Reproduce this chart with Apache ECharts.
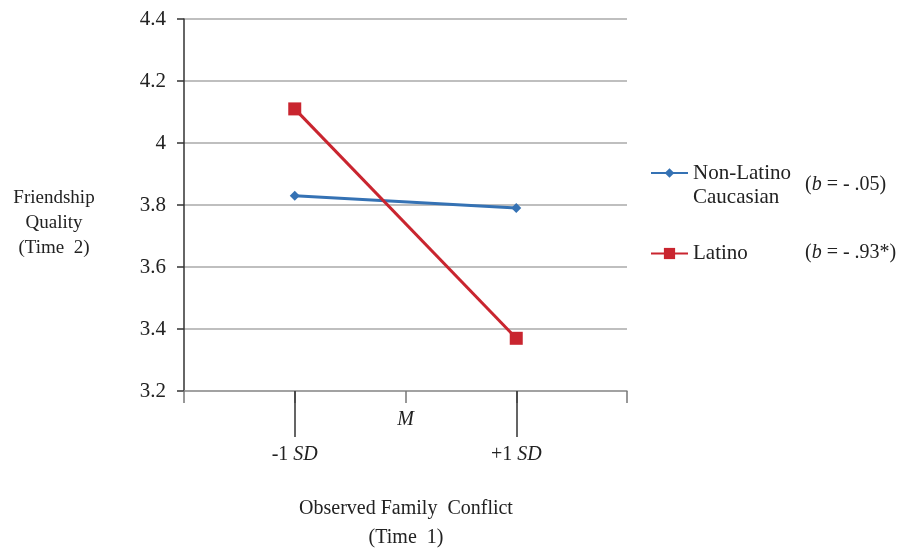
<!DOCTYPE html>
<html>
<head>
<meta charset="utf-8">
<script src="https://cdn.jsdelivr.net/npm/echarts@6/dist/echarts.min.js"></script>
<style>
  html, body { margin: 0; padding: 0; background: #fff; }
  #chart { width: 904px; height: 549px; }
</style>
</head>
<body>
<div id="chart"></div>
<script>
// x positions: -1 SD, M, +1 SD (value axis -2..2)
const xPoints = [-1, 1];
const xTickLabels = { '-1': '-1 ', '0': 'M', '1': '+1 ' };
const yTicks = [3.2, 3.4, 3.6, 3.8, 4.0, 4.2, 4.4];
const seriesNames = ['Non-Latino\nCaucasian', 'Latino'];
const nonLatinoValues = [3.83, 3.79];
const latinoValues = [4.11, 3.37];
const slopeLabels = ['- .05)', '- .93*)'];

const serif = '"Liberation Serif", "Times New Roman", serif';
const blue = '#3572b4';
const red = '#c9252f';

const chart = echarts.init(document.getElementById('chart'));

const pair = (xs, ys) => xs.map((x, i) => [x, ys[i]]);

const option = {
  animation: false,
  textStyle: { fontFamily: serif },
  grid: { left: 184, right: 277, top: 19, bottom: 158 },
  xAxis: [
    {
      type: 'value', min: -2, max: 2, interval: 1,
      axisLine: { show: true, onZero: false, lineStyle: { color: '#999', width: 1.5 } },
      axisTick: { show: true, length: 12, lineStyle: { color: '#777', width: 1.5 } },
      splitLine: { show: false },
      axisLabel: {
        customValues: [0], margin: 19,
        formatter: () => xTickLabels['0'],
        fontFamily: serif, fontSize: 20, fontStyle: 'italic', color: '#222'
      }
    },
    {
      type: 'value', min: -2, max: 2, interval: 1, position: 'bottom',
      axisLine: { show: false, onZero: false },
      axisTick: { show: true, customValues: [-1, 1], length: 46, lineStyle: { color: '#333', width: 1.5 } },
      splitLine: { show: false },
      axisLabel: {
        customValues: [-1, 1], margin: 54,
        formatter: v => xTickLabels[String(v)] + '{i|SD}',
        fontFamily: serif, fontSize: 20, color: '#222',
        rich: { i: { fontFamily: serif, fontSize: 20, fontStyle: 'italic', color: '#222' } }
      }
    }
  ],
  yAxis: {
    type: 'value', min: 3.2, max: 4.4, interval: 0.2,
    axisLine: { show: true, onZero: false, lineStyle: { color: '#333', width: 1.5 } },
    axisTick: { show: true, length: 7, lineStyle: { color: '#333', width: 1.5 } },
    splitLine: { show: true, lineStyle: { color: '#aaa', width: 1.5 } },
    axisLabel: {
      margin: 18, fontFamily: serif, fontSize: 21, color: '#222',
      formatter: v => {
        const t = yTicks.find(y => Math.abs(y - v) < 1e-6);
        return t === 4 ? '4' : t.toFixed(1);
      }
    }
  },
  legend: [
    {
      data: [seriesNames[0]], orient: 'vertical', left: 645, top: 132,
      itemWidth: 37, itemHeight: 12,
      formatter: name => ' \n' + name,
      textStyle: { fontFamily: serif, fontSize: 21, color: '#222', lineHeight: 24 }
    },
    {
      data: [seriesNames[1]], orient: 'vertical', left: 645, top: 238,
      itemWidth: 37, itemHeight: 14,
      textStyle: { fontFamily: serif, fontSize: 21, color: '#222' }
    }
  ],
  series: [
    {
      name: seriesNames[0], type: 'line', data: pair(xPoints, nonLatinoValues),
      symbol: 'diamond', symbolSize: 10,
      lineStyle: { color: blue, width: 3 }, itemStyle: { color: blue }
    },
    {
      name: seriesNames[1], type: 'line', data: pair(xPoints, latinoValues),
      symbol: 'rect', symbolSize: 13,
      lineStyle: { color: red, width: 3 }, itemStyle: { color: red }
    }
  ],
  graphic: [
    {
      type: 'text', x: 805, y: 185,
      style: {
        text: '({i|b} = ' + slopeLabels[0], font: '20px ' + serif, fill: '#222',
        verticalAlign: 'middle',
        rich: { i: { fontStyle: 'italic', fontFamily: serif, fontSize: 20 } }
      }
    },
    {
      type: 'text', x: 805, y: 253,
      style: {
        text: '({i|b} = ' + slopeLabels[1], font: '20px ' + serif, fill: '#222',
        verticalAlign: 'middle',
        rich: { i: { fontStyle: 'italic', fontFamily: serif, fontSize: 20 } }
      }
    },
    {
      type: 'text', x: 54, y: 186,
      style: {
        text: 'Friendship\nQuality\n(Time  2)', font: '19px ' + serif, fill: '#222',
        align: 'center', lineHeight: 25
      }
    },
    {
      type: 'text', x: 406, y: 494,
      style: {
        text: 'Observed Family  Conflict\n(Time  1)', font: '20px ' + serif, fill: '#222',
        align: 'center', lineHeight: 29
      }
    }
  ]
};

chart.setOption(option);
</script>
</body>
</html>
